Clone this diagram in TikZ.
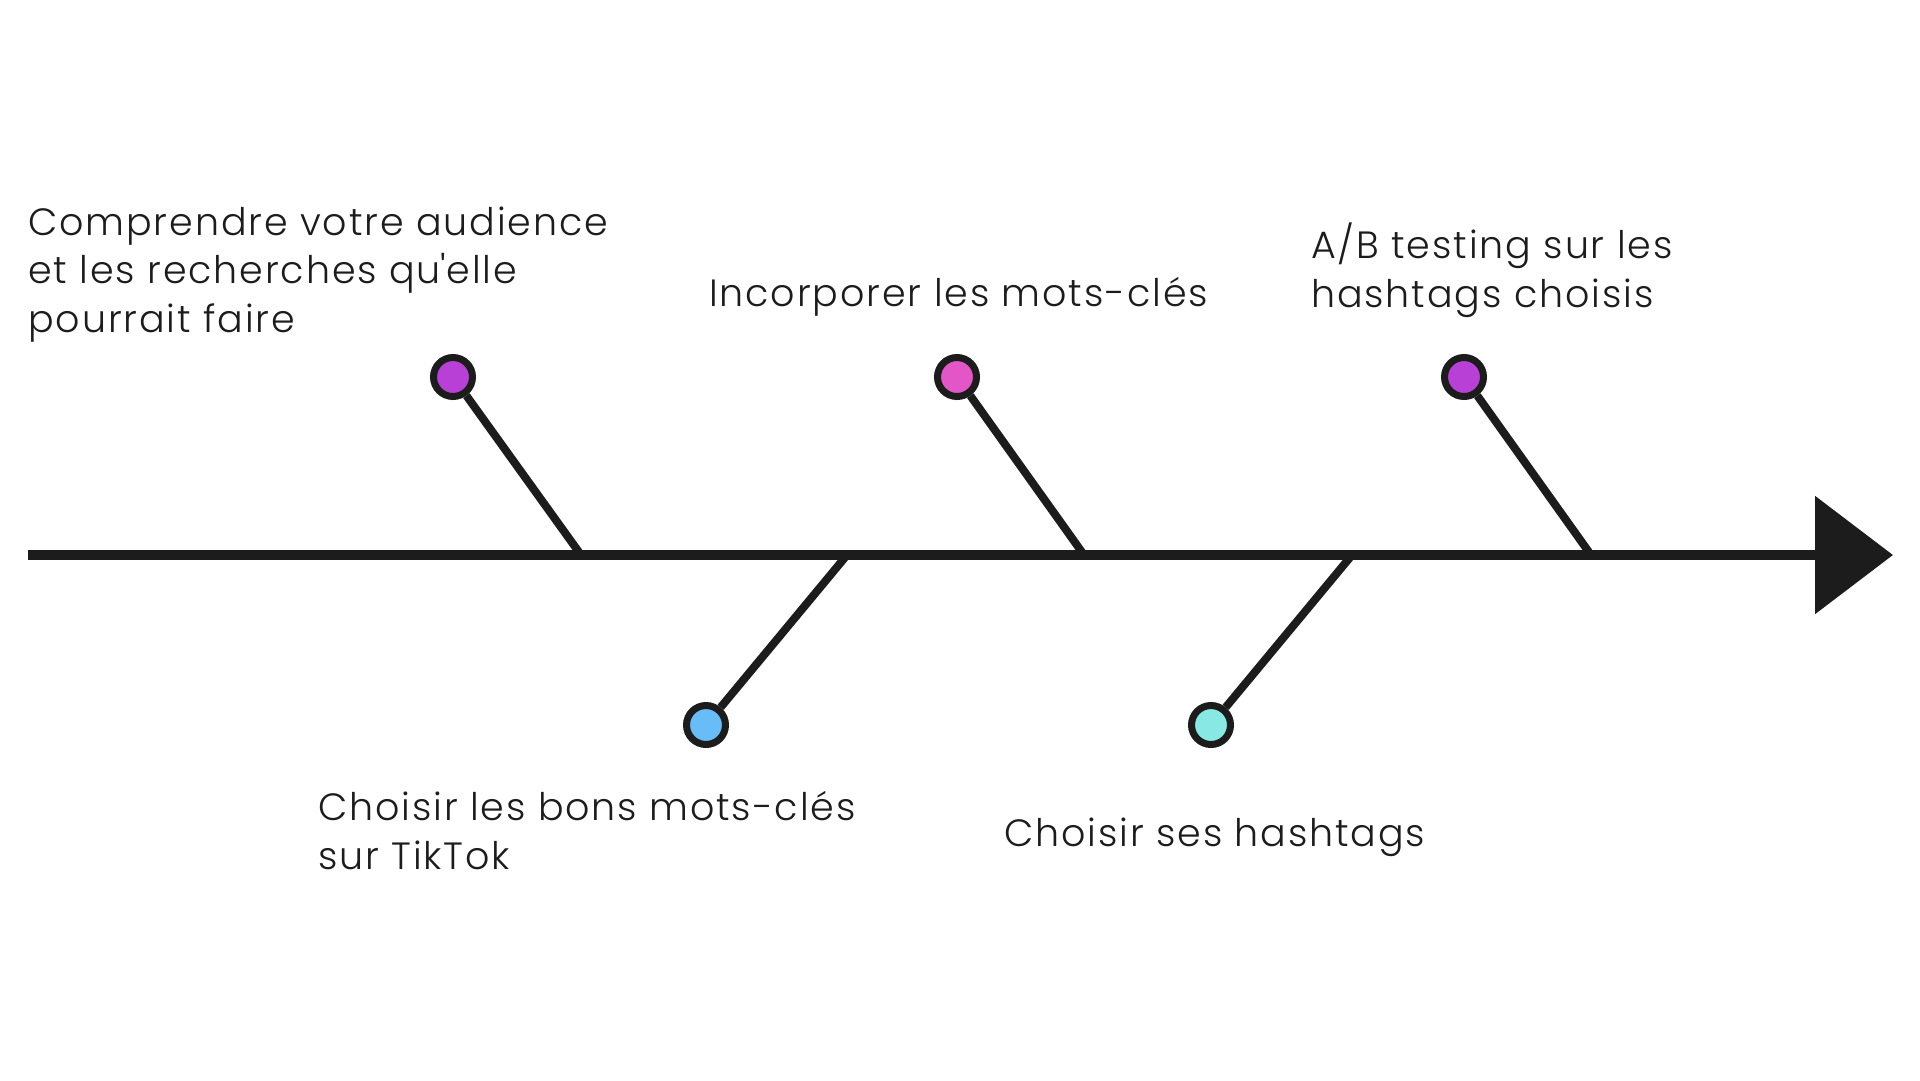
\documentclass[tikz,border=0pt]{standalone}
\usepackage{fontspec}
\setmainfont{Poppins}[UprightFont=* Light, LetterSpace=5]
\usetikzlibrary{arrows.meta}
\definecolor{ink}{HTML}{1C1C1C}
\definecolor{violet}{HTML}{B940D6}
\definecolor{rose}{HTML}{E256C8}
\definecolor{ciel}{HTML}{68BCF8}
\definecolor{menthe}{HTML}{88E9E4}

\begin{document}
\begin{tikzpicture}[x=1pt,y=-1pt,
    bone/.style={draw=ink, line width=8pt},
    knob/.style={circle, draw=ink, line width=7pt, minimum size=39pt, inner sep=0pt},
    caption/.style={anchor=base west, inner sep=0pt, align=left, text=ink, font=\fontsize{38}{48.5}\selectfont}]
    \useasboundingbox[fill=white] (0,0) rectangle (1920,1080);
    \coordinate (tail) at (28,555);
    \coordinate (head) at (1893,555);
    \coordinate (f1) at (581,555);
    \coordinate (f2) at (847,555);
    \coordinate (f3) at (1084,555);
    \coordinate (f4) at (1352,555);
    \coordinate (f5) at (1591,555);
    \node[knob, fill=violet] (audience) at (453,377) {};
    \node[knob, fill=ciel] (bons) at (706,725) {};
    \node[knob, fill=rose] (incorporer) at (957,377) {};
    \node[knob, fill=menthe] (hashtags) at (1211,725) {};
    \node[knob, fill=violet] (abtest) at (1464,377) {};
    \draw[bone] (audience) -- (f1);
    \draw[bone] (bons) -- (f2);
    \draw[bone] (incorporer) -- (f3);
    \draw[bone] (hashtags) -- (f4);
    \draw[bone] (abtest) -- (f5);
    \draw[draw=ink, fill=ink, line width=10pt, -{Triangle[length=78pt,width=116pt]}] (tail) -- (head);
    \node[caption] (t1) at (28,332) {Comprendre votre audience\\et les recherches qu\textquotesingle elle\\pourrait faire};
    \node[caption] (t2) at (709,306) {Incorporer les mots-clés};
    \node[caption] (t3) at (1311,307) {A/B testing sur les\\hashtags choisis};
    \node[caption] (t4) at (318,869) {Choisir les bons mots-clés\\sur TikTok};
    \node[caption] (t5) at (1004,846) {Choisir ses hashtags};
\end{tikzpicture}
\end{document}
